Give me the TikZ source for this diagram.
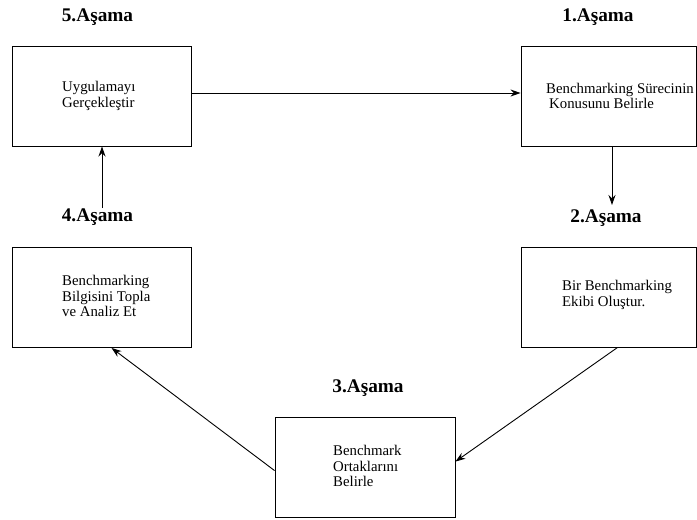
\documentclass[tikz,border=0pt]{standalone}
\usepackage{fontspec}
\setmainfont{Liberation Serif}
\usetikzlibrary{arrows.meta,calc}
\begin{document}
\begin{tikzpicture}[x=1pt,y=-1pt,
  box/.style={draw=black,line width=0.9pt,inner sep=0pt},
  txt/.style={inner sep=0pt,align=left,font=\fontsize{14.8}{15.5}\selectfont,anchor=west},
  stage/.style={inner sep=0pt,anchor=base,font=\fontsize{19.3}{20}\selectfont\bfseries},
  conn/.style={line width=0.9pt,-{Stealth[length=10pt,width=7pt]}}]
\useasboundingbox (0,0) rectangle (697,520);
% boxes
\node[box,minimum width=179pt,minimum height=100pt] (b5) at (101.5,96) {};
\node[box,minimum width=175pt,minimum height=100pt] (b1) at (608.5,96) {};
\node[box,minimum width=175pt,minimum height=100pt] (b2) at (608.5,297) {};
\node[box,minimum width=179pt,minimum height=100pt] (b4) at (101.5,297.5) {};
\node[box,minimum width=180pt,minimum height=100pt] (b3) at (365,467) {};
% texts
\node[txt] (t5) at (62,96) {Uygulamayı\\Gerçekleştir};
\node[txt] (t1) at (546,96) {Benchmarking Sürecinin\\\hspace*{3pt}Konusunu Belirle};
\node[txt] (t2) at (562,295) {Bir Benchmarking\\Ekibi Oluştur.};
\node[txt] (t4) at (62,296) {Benchmarking\\Bilgisini Topla\\ve Analiz Et};
\node[txt] (t3) at (333,466) {Benchmark\\Ortaklarını\\Belirle};
% stage labels
\node[stage] (s5) at (97.5,21.5) {5.Aşama};
\node[stage] (s1) at (598,21.5) {1.Aşama};
\node[stage] (s4) at (97.5,221) {4.Aşama};
\node[stage] (s2) at (606,222) {2.Aşama};
\node[stage] (s3) at (368,392) {3.Aşama};
% connectors
\coordinate (c4top) at (102,208);
\coordinate (c1bot) at (612,146);
\coordinate (c2in) at (612,205);
\draw[conn] (b5.east |- 0,93) -- (b1.west |- 0,93);
\draw[conn] (c1bot) -- (c2in);
\draw[conn] ($(b2.south west)+(97,0)$) -- ($(b3.north east)+(0,45)$);
\draw[conn] ($(b3.north west)+(0,54)$) -- ($(b4.south west)+(100,0)$);
\draw[conn] (c4top) -- (102,146.5);
\end{tikzpicture}
\end{document}
